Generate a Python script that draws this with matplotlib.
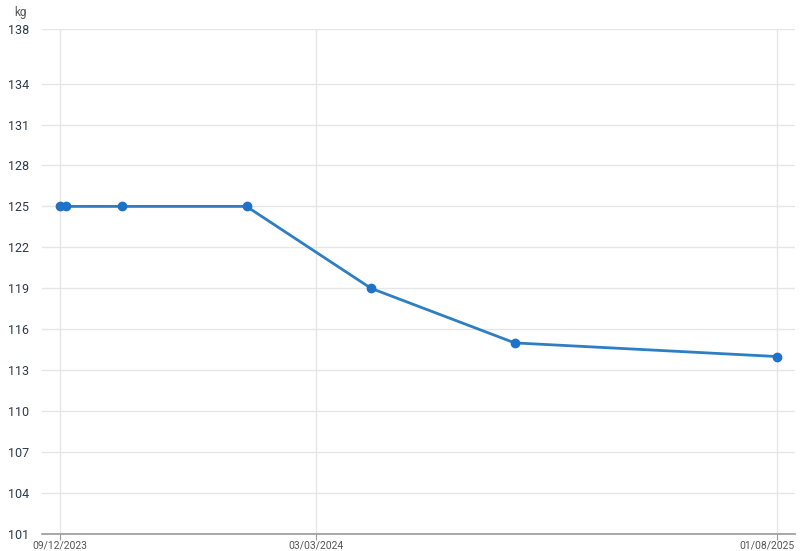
import matplotlib
matplotlib.use('Agg')
import matplotlib.pyplot as plt
import matplotlib.dates as mdates
import matplotlib.transforms as mtransforms
from datetime import datetime, timedelta

plt.rcParams['font.family'] = ['Roboto', 'DejaVu Sans']

# weight log
dates = ['2023-09-12', '2023-09-16', '2023-10-24', '2024-01-16',
         '2024-04-09', '2024-07-15', '2025-01-08']
weights = [125, 125, 125, 125, 119, 115, 114]

y_ticks = [101, 104, 107, 110, 113, 116, 119, 122, 125, 128, 131, 134, 138]
x_ticks = ['2023-09-12', '2024-03-03', '2025-01-08']

d = [datetime.strptime(s, '%Y-%m-%d') for s in dates]
xt = [datetime.strptime(s, '%Y-%m-%d') for s in x_ticks]

fig = plt.figure(figsize=(8, 5.51), dpi=100)
ax = fig.add_axes([0.0525, 0.0309, 0.941, 0.9165])

ax.plot(d, weights, color='#2e7ec3', linewidth=2, marker='o', markersize=6,
        markerfacecolor='#1f72c8', markeredgecolor='#1f72c8', zorder=3)

ax.set_ylim(101, 138)
ax.set_yticks(y_ticks)
ax.set_xlim(xt[0] - timedelta(days=12), xt[-1] + timedelta(days=12))
ax.set_xticks(xt)
ax.xaxis.set_major_formatter(mdates.DateFormatter('%m/%d/%Y'))

ax.grid(True, color='#e6e6e6', linewidth=1)
ax.set_axisbelow(True)
for s in ['top', 'right', 'left']:
    ax.spines[s].set_visible(False)
ax.spines['bottom'].set_color('#999999')
ax.spines['bottom'].set_linewidth(1.2)

ax.tick_params(axis='y', length=0, labelsize=9, labelcolor='#2b3a4e', pad=9.5)
ax.tick_params(axis='x', length=4, color='#999999', labelsize=7.5,
               labelcolor='#555555', pad=0.5)

# last date label sits inside the right edge
last = ax.get_xticklabels()[-1]
last.set_horizontalalignment('right')
last.set_transform(last.get_transform() +
                   mtransforms.ScaledTranslation(18 / 100, 0, fig.dpi_scale_trans))

fig.text(0.025, 0.978, 'kg', fontsize=8.5, color='#555555', ha='center', va='center')

fig.savefig('out.png', dpi=100)
